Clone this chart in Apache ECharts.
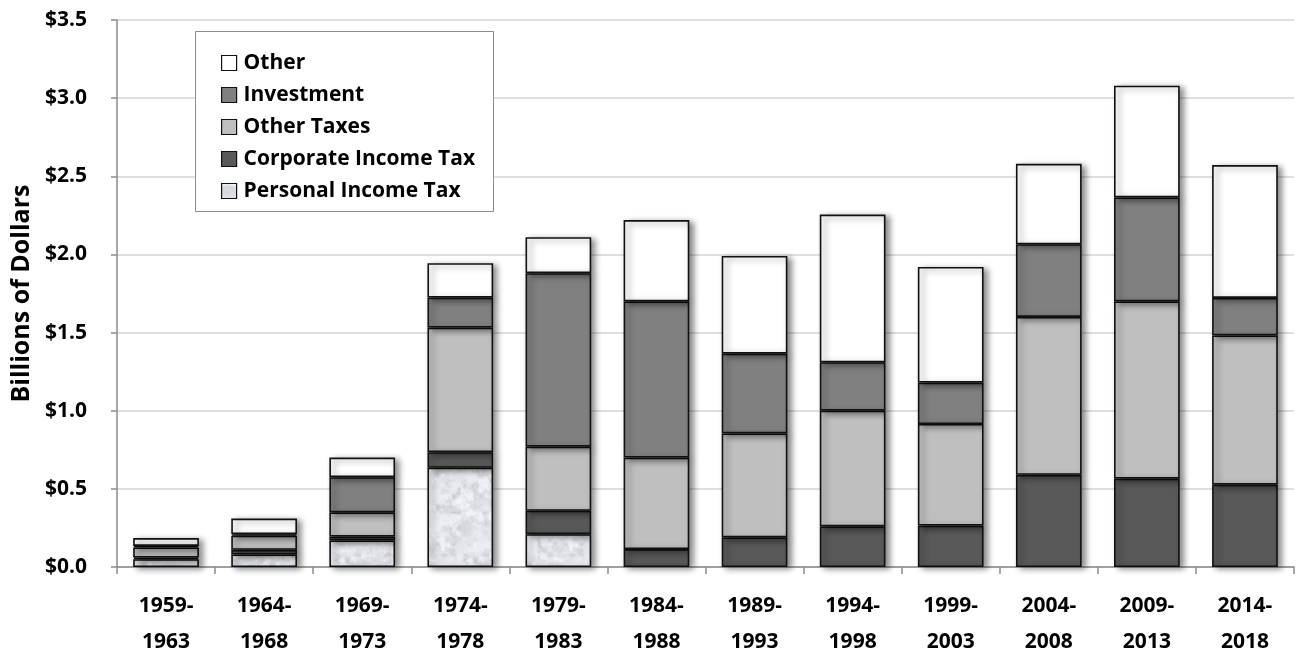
<!DOCTYPE html>
<html>
<head>
<meta charset="utf-8">
<script src="https://cdn.jsdelivr.net/npm/echarts@6/dist/echarts.min.js"></script>
<style>
  html, body { margin: 0; padding: 0; background: #fff; }
  #chart { width: 1306px; height: 654px; }
</style>
</head>
<body>
<div id="chart"></div>
<script>
// Revenue sources by five-year period, billions of dollars
const periods = ['1959-1963', '1964-1968', '1969-1973', '1974-1978', '1979-1983', '1984-1988',
                 '1989-1993', '1994-1998', '1999-2003', '2004-2008', '2009-2013', '2014-2018'];
const personalIncomeTax  = [0.05, 0.08, 0.17, 0.635, 0.21, 0, 0, 0, 0, 0, 0, 0];
const corporateIncomeTax = [0.01, 0.03, 0.025, 0.10, 0.15, 0.115, 0.19, 0.26, 0.265, 0.59, 0.565, 0.527];
const otherTaxes         = [0.065, 0.09, 0.155, 0.797, 0.41, 0.585, 0.665, 0.74, 0.65, 1.01, 1.135, 0.955];
const investment         = [0.01, 0.01, 0.225, 0.192, 1.11, 1.0, 0.51, 0.31, 0.265, 0.465, 0.665, 0.24];
const other              = [0.05, 0.10, 0.125, 0.22, 0.23, 0.52, 0.625, 0.945, 0.74, 0.515, 0.715, 0.85];
const legendOrder = ['Other', 'Investment', 'Other Taxes', 'Corporate Income Tax', 'Personal Income Tax'];
const yTicks = [0, 0.5, 1.0, 1.5, 2.0, 2.5, 3.0, 3.5];

// Speckled light grey marble tile used for the personal income tax segments
function marbleTile(size) {
  const c = document.createElement('canvas');
  c.width = c.height = size;
  const ctx = c.getContext('2d');
  const img = ctx.createImageData(size, size);
  function hash(x, y) {
    let h = (x * 374761393 + y * 668265263) | 0;
    h = Math.imul(h ^ (h >>> 13), 1274126177);
    return ((h ^ (h >>> 16)) >>> 0) / 4294967295;
  }
  function smooth(t) { return t * t * (3 - 2 * t); }
  function noise(x, y, period) {
    const x0 = Math.floor(x), y0 = Math.floor(y);
    const fx = smooth(x - x0), fy = smooth(y - y0);
    const w = (a) => ((a % period) + period) % period;
    const a = hash(w(x0), w(y0)), b = hash(w(x0 + 1), w(y0));
    const cc = hash(w(x0), w(y0 + 1)), d = hash(w(x0 + 1), w(y0 + 1));
    return (a * (1 - fx) + b * fx) * (1 - fy) + (cc * (1 - fx) + d * fx) * fy;
  }
  for (let y = 0; y < size; y++) {
    for (let x = 0; x < size; x++) {
      let v = 0, amp = 0.5, freq = 24;
      for (let o = 0; o < 3; o++) {
        v += amp * noise(x * freq / size, y * freq / size, freq);
        amp *= 0.5; freq *= 2;
      }
      const vein = Math.abs(Math.sin((x * 0.6 + y) * 0.06 + v * 5));
      let g = 248 - Math.pow(v, 1.8) * 62 - (1 - vein) * 8;
      g = Math.max(192, Math.min(250, g));
      const i = (y * size + x) * 4;
      img.data[i] = g - 3; img.data[i + 1] = g - 2; img.data[i + 2] = g + 3; img.data[i + 3] = 255;
    }
  }
  ctx.putImageData(img, 0, 0);
  return c;
}

const labelFont = '"Open Sans", Lato, sans-serif';

function barSeries(name, values, fill) {
  return {
    name: name,
    type: 'bar',
    stack: 'total',
    barCategoryGap: '33%',
    data: values.map(v => (v > 0 ? v : '-')),
    itemStyle: {
      color: fill,
      borderColor: '#111',
      borderWidth: 1.6,
      shadowColor: 'rgba(0,0,0,0.45)',
      shadowBlur: 6,
      shadowOffsetX: 4,
      shadowOffsetY: 2
    },
    emphasis: { disabled: true }
  };
}

const chart = echarts.init(document.getElementById('chart'), null, { renderer: 'canvas' });
const tile = marbleTile(128);

chart.setOption({
  animation: false,
  backgroundColor: '#fff',
  grid: { left: 117, right: 12, top: 20, bottom: 87, containLabel: false, outerBoundsMode: 'none' },
  graphic: [{
    type: 'rect',
    z: 3,
    shape: { x: 195.5, y: 31.5, width: 298, height: 180 },
    style: { fill: '#fff', stroke: '#8c8c8c', lineWidth: 1 }
  }],
  legend: {
    data: legendOrder,
    orient: 'vertical',
    left: 195,
    top: 31,
    padding: [20, 10, 8, 26],
    itemGap: 8,
    itemWidth: 15,
    itemHeight: 15,
    icon: 'rect',
    z: 4,
    selectedMode: false,
    textStyle: { fontFamily: labelFont, fontWeight: 'bold', fontSize: 21, lineHeight: 24, color: '#000', padding: [0, 0, 0, 2] },
    itemStyle: { shadowBlur: 0, shadowOffsetX: 0, shadowOffsetY: 0, borderWidth: 1.2 }
  },
  xAxis: {
    type: 'category',
    data: periods,
    axisLine: { lineStyle: { color: '#8c8c8c', width: 1.5 } },
    axisTick: { show: true, length: 7, interval: 0, lineStyle: { color: '#8c8c8c', width: 1.5 } },
    axisLabel: {
      interval: 0,
      margin: 21,
      fontFamily: labelFont,
      fontWeight: 'bold',
      fontSize: 21,
      lineHeight: 36,
      color: '#000',
      formatter: v => v.replace('-', '-\n')
    }
  },
  yAxis: {
    type: 'value',
    min: 0,
    max: 3.5,
    interval: 0.5,
    name: 'Billions of Dollars',
    nameLocation: 'middle',
    nameRotate: 90,
    nameGap: 82,
    nameTextStyle: { fontFamily: '"Open Sans", sans-serif', fontWeight: 'bold', fontSize: 25, color: '#000' },
    axisLine: { show: true, lineStyle: { color: '#8c8c8c', width: 1.5 } },
    axisTick: { show: true, length: 6, lineStyle: { color: '#8c8c8c', width: 1.5 } },
    splitLine: { lineStyle: { color: '#d4d4d4', width: 1.5 } },
    axisLabel: {
      margin: 30,
      fontFamily: labelFont,
      fontWeight: 'bold',
      fontSize: 21,
      color: '#000',
      formatter: v => (yTicks.indexOf(v) >= 0 ? '$' + v.toFixed(1) : '')
    }
  },
  series: [
    barSeries('Personal Income Tax', personalIncomeTax, { image: tile, repeat: 'repeat' }),
    barSeries('Corporate Income Tax', corporateIncomeTax, '#595959'),
    barSeries('Other Taxes', otherTaxes, '#bfbfbf'),
    barSeries('Investment', investment, '#808080'),
    barSeries('Other', other, '#ffffff')
  ]
});
</script>
</body>
</html>
